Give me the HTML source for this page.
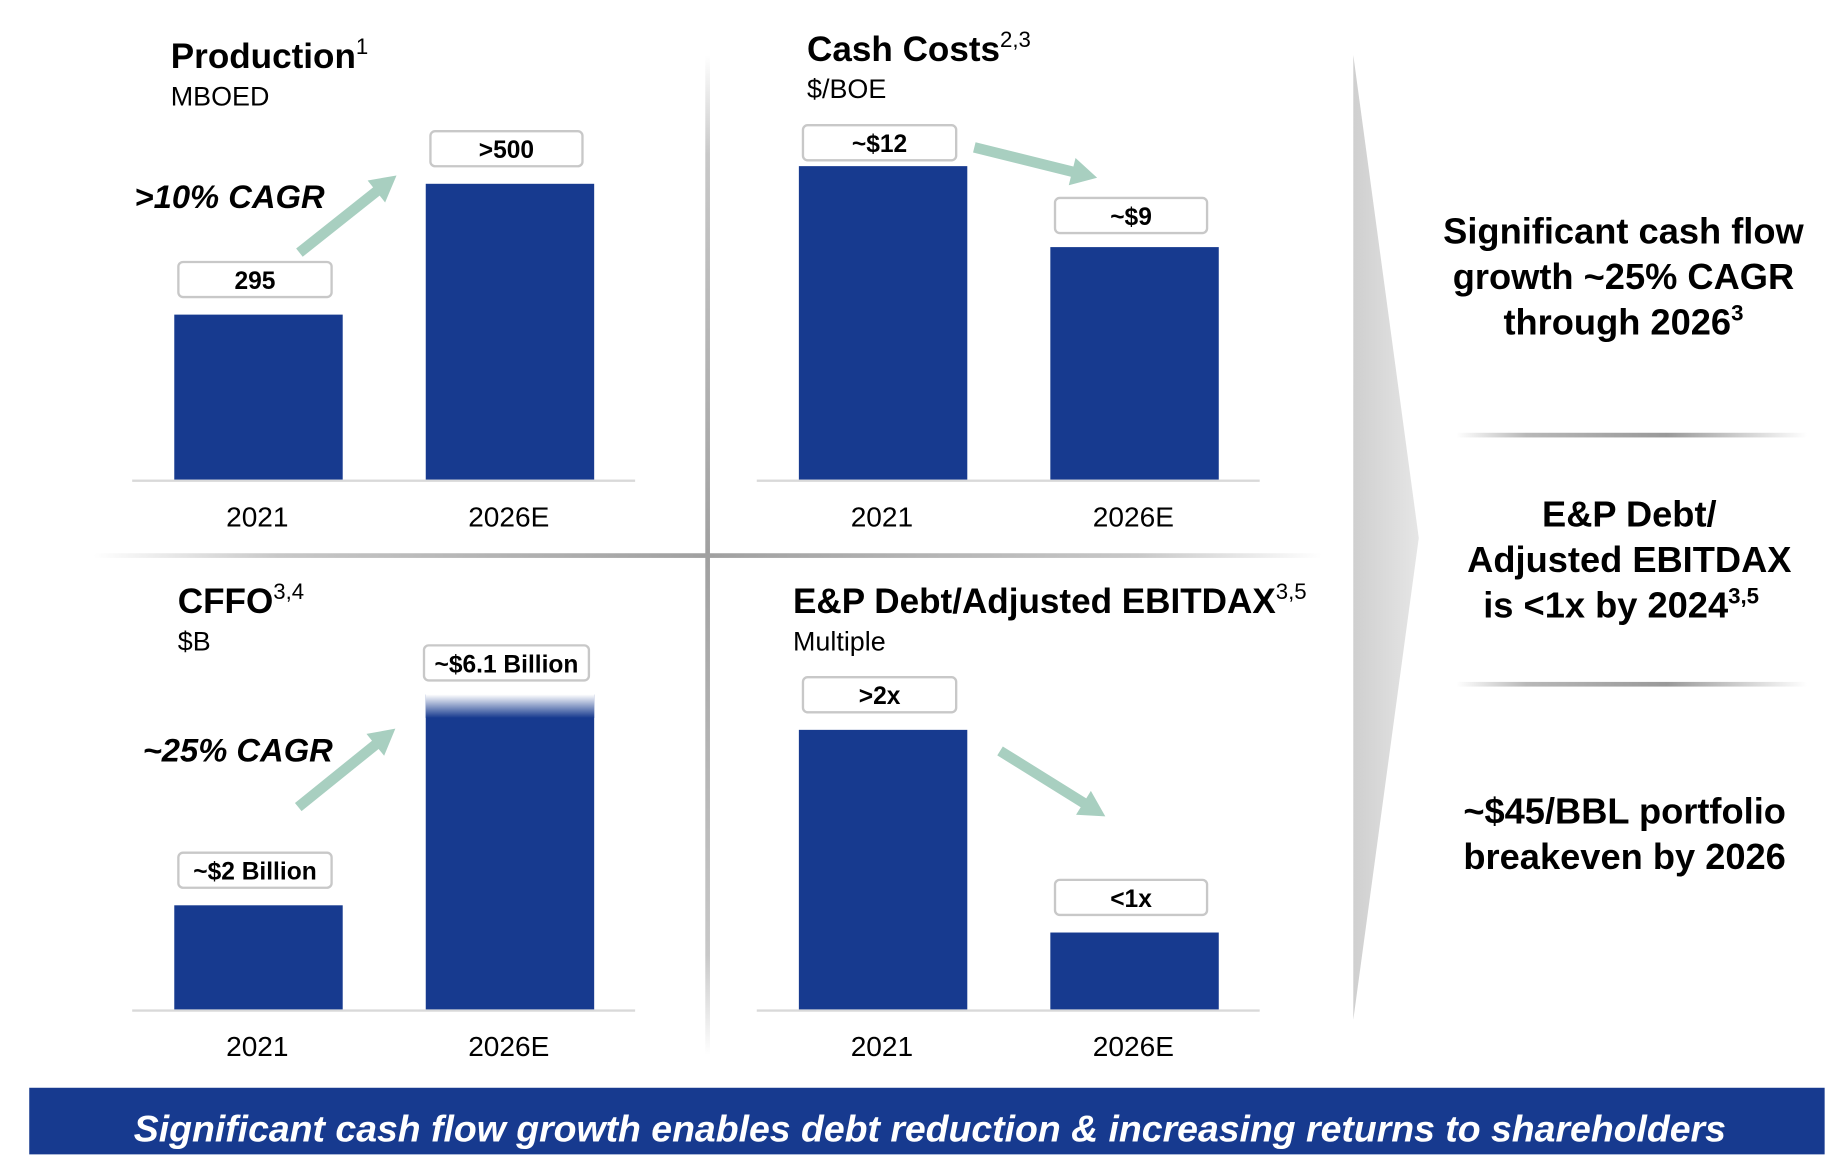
<!DOCTYPE html>
<html><head><meta charset="utf-8">
<style>
html,body{margin:0;padding:0;background:#fff;width:1834px;height:1154px;overflow:hidden}
#stage{position:absolute;left:0;top:0;width:1568px;height:987px;transform:scale(1.16964);transform-origin:0 0;font-family:"Liberation Sans",Arial,sans-serif}
svg text{font-family:"Liberation Sans",Arial,sans-serif}
</style></head><body>
<div id="stage">
<svg id="svg" width="1568" height="987" viewBox="0 0 1568 987">
<defs>
<linearGradient id="vdiv" x1="0" y1="0" x2="0" y2="1"><stop offset="0" stop-color="#fff"/><stop offset="0.1" stop-color="#c8c8c8"/><stop offset="0.5" stop-color="#a0a0a0"/><stop offset="0.9" stop-color="#c8c8c8"/><stop offset="1" stop-color="#fff"/></linearGradient>
<linearGradient id="hdiv" x1="0" y1="0" x2="1" y2="0"><stop offset="0" stop-color="#fff"/><stop offset="0.15" stop-color="#c8c8c8"/><stop offset="0.5" stop-color="#a0a0a0"/><stop offset="0.85" stop-color="#c8c8c8"/><stop offset="1" stop-color="#fff"/></linearGradient>
<linearGradient id="rdiv" x1="0" y1="0" x2="1" y2="0"><stop offset="0" stop-color="#fff"/><stop offset="0.2" stop-color="#b8b8b8"/><stop offset="0.6" stop-color="#999"/><stop offset="1" stop-color="#fff"/></linearGradient>
<linearGradient id="tri" x1="0" y1="0" x2="1" y2="0"><stop offset="0" stop-color="#cfcfcf"/><stop offset="1" stop-color="#e6e6e6"/></linearGradient>
<linearGradient id="fade" x1="0" y1="0" x2="0" y2="1"><stop offset="0" stop-color="#fff"/><stop offset="1" stop-color="#173a8f"/></linearGradient>
</defs>
<rect x="603" y="47" width="4" height="855" fill="url(#vdiv)"/>
<rect x="80" y="473" width="1050" height="4" fill="url(#hdiv)"/>
<polygon points="1157,47 1213,460 1157,872" fill="url(#tri)"/>
<rect x="1245" y="370" width="300" height="4" fill="url(#rdiv)"/>
<rect x="1245" y="583" width="300" height="4" fill="url(#rdiv)"/>
<g id="charts"></g>
<g font-weight="bold" font-size="31" text-anchor="middle" fill="#000">
<text x="1388" y="208"><tspan x="1388">Significant cash flow</tspan><tspan x="1388" dy="39">growth ~25% CAGR</tspan><tspan x="1388" dy="39">through 2026<tspan font-size="19" dy="-12">3</tspan></tspan></text>
<text x="1393" y="450"><tspan x="1393">E&amp;P Debt/</tspan><tspan x="1393" dy="39">Adjusted EBITDAX</tspan><tspan x="1386" dy="39">is &lt;1x by 2024<tspan font-size="19" dy="-12">3,5</tspan></tspan></text>
<text x="1389" y="704"><tspan x="1389">~$45/BBL portfolio</tspan><tspan x="1389" dy="39">breakeven by 2026</tspan></text>
</g>
<rect x="25" y="930" width="1535" height="60" fill="#173a8f"/>
<text x="795" y="976" font-size="32" font-weight="bold" font-style="italic" fill="#fff" text-anchor="middle">Significant cash flow growth enables debt reduction &amp; increasing returns to shareholders</text>
</svg>
</div>
<script>
const categories = ["2021", "2026E"];
const productionValues = [295, 529];
const productionLabels = ["295", ">500"];
const cashCostValues = [12, 8.9];
const cashCostLabels = ["~$12", "~$9"];
const cffoValues = [2, 6.05];
const cffoLabels = ["~$2 Billion", "~$6.1 Billion"];
const debtValues = [2, 0.55];
const debtLabels = [">2x", "<1x"];

const NS = "http://www.w3.org/2000/svg";
const g = document.getElementById('charts');
function mk(tag, attrs, parent) {
  const e = document.createElementNS(NS, tag);
  for (const k in attrs) e.setAttribute(k, attrs[k]);
  (parent || g).appendChild(e);
  return e;
}
const panels = [
  {key:"production", x0:113, base:410, pxPerUnit:0.478, vals:productionValues, labels:productionLabels, title:"Production", sup:"1", sub:"MBOED", tx:146, ty:58, boxW:[131,130], gap:[45,45]},
  {key:"cash-costs", x0:647, base:410, pxPerUnit:22.33, vals:cashCostValues, labels:cashCostLabels, title:"Cash Costs", sup:"2,3", sub:"$/BOE", tx:690, ty:52, boxW:[131,130], gap:[35,42]},
  {key:"cffo", x0:113, base:863, pxPerUnit:44.5, vals:cffoValues, labels:cffoLabels, title:"CFFO", sup:"3,4", sub:"$B", tx:152, ty:524, boxW:[131,141], gap:[45,42], fade:true},
  {key:"debt-ebitdax", x0:647, base:863, pxPerUnit:119.5, vals:debtValues, labels:debtLabels, title:"E&P Debt/Adjusted EBITDAX", sup:"3,5", sub:"Multiple", tx:678, ty:524, boxW:[131,130], gap:[45,45]}
];
panels.forEach(p => {
  const xScale = i => p.x0 + 36 + i * 215;
  const yScale = v => p.base - v * p.pxPerUnit;
  const t = mk('text', {x:p.tx, y:p.ty, 'font-size':30, 'font-weight':'bold', fill:'#000'});
  
  
  t.textContent = p.title;
  const s = mk('tspan', {'font-size':19, 'font-weight':'normal', dy:-12}, t);
  s.textContent = p.sup;
  const st = mk('text', {x:p.tx, y:p.ty + 32, 'font-size':23, fill:'#000'});
  
  
  st.textContent = p.sub;
  const ax = mk('rect', {x:p.x0, y:p.base, width:430, height:2, fill:'#d9d9d9'});
  
  
  p.vals.forEach((v, i) => {
    const x = xScale(i), y = yScale(v);
    const b = mk('rect', {x:x, y:y, width:144, height:p.base - y, fill:'#173a8f'});
    
    
    if (p.fade && i === 1) {
      const f = mk('rect', {x:x, y:y, width:144, height:20, fill:'url(#fade)'});
      
      
    }
    const bw = p.boxW[i];
    const bx = x + 72 - bw / 2 - 3;
    const by = y - p.gap[i];
    const box = mk('rect', {x:bx, y:by, width:bw, height:30, rx:4, fill:'#fff', stroke:'#c8c8c8', 'stroke-width':2});
    
    
    const lt = mk('text', {x:bx + bw / 2, y:by + 23, 'font-size':21, 'font-weight':'bold', 'text-anchor':'middle', fill:'#000'});
    
    
    lt.textContent = p.labels[i];
    const ct = mk('text', {x:x + 71, y:p.base + 40, 'font-size':24, 'text-anchor':'middle', fill:'#000'});
    
    
    ct.textContent = categories[i];
  });
});
function arrow(x1, y1, x2, y2, name) {
  const a = Math.atan2(y2 - y1, x2 - x1), L = Math.hypot(x2 - x1, y2 - y1);
  const hl = 22, hw = 12, sw = 4.5;
  const pts = [[0,-sw],[L-hl,-sw],[L-hl,-hw],[L,0],[L-hl,hw],[L-hl,sw],[0,sw]]
    .map(([u,v]) => [x1 + u*Math.cos(a) - v*Math.sin(a), y1 + u*Math.sin(a) + v*Math.cos(a)].join(',')).join(' ');
  const e = mk('polygon', {points:pts, fill:'#a8cfc0'});
  
  
}
arrow(256, 216, 339, 150, 'production-trend-arrow');
arrow(833, 126, 938, 152, 'cash-costs-trend-arrow');
arrow(255, 690, 338, 623, 'cffo-trend-arrow');
arrow(855, 642, 945, 698, 'debt-trend-arrow');
const c1 = mk('text', {x:115, y:178, 'font-size':28, 'font-weight':'bold', 'font-style':'italic', fill:'#000'});


c1.textContent = '>10% CAGR';
const c2 = mk('text', {x:122, y:651, 'font-size':28, 'font-weight':'bold', 'font-style':'italic', fill:'#000'});


c2.textContent = '~25% CAGR';
</script>
</body></html>
